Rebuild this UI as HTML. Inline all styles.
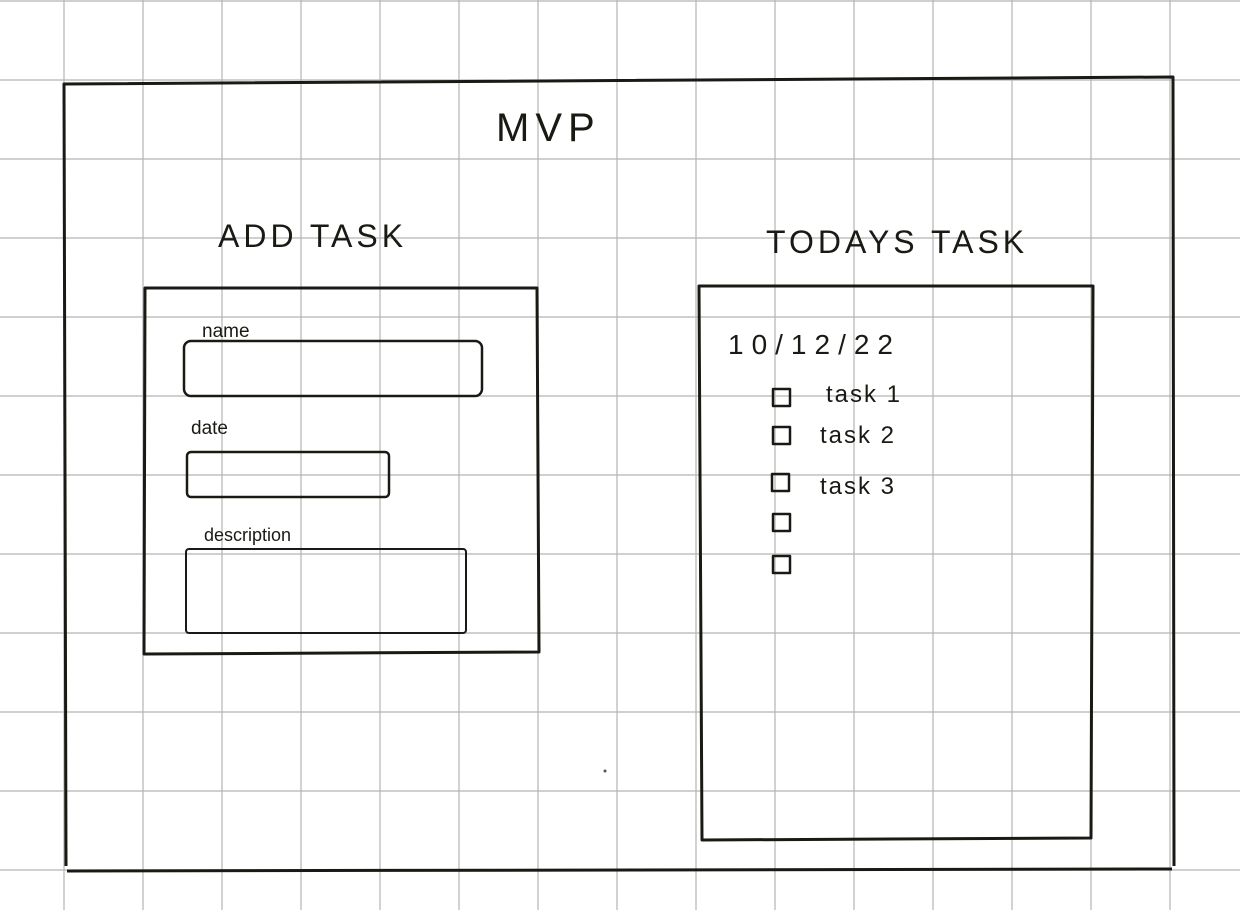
<!DOCTYPE html>
<html><head><meta charset="utf-8"><style>
html,body{margin:0;padding:0;background:#fff;}
svg{display:block}
text{font-family:"Liberation Sans",sans-serif;fill:#1a1a14}
</style></head><body>
<svg width="1240" height="910" viewBox="0 0 1240 910" xmlns="http://www.w3.org/2000/svg">
<rect width="1240" height="910" fill="#fff"/>
<g stroke="#b4b4b4" stroke-width="1.2">
<line x1="64" y1="0" x2="64" y2="910"/><line x1="143" y1="0" x2="143" y2="910"/><line x1="222" y1="0" x2="222" y2="910"/><line x1="301" y1="0" x2="301" y2="910"/><line x1="380" y1="0" x2="380" y2="910"/><line x1="459" y1="0" x2="459" y2="910"/><line x1="538" y1="0" x2="538" y2="910"/><line x1="617" y1="0" x2="617" y2="910"/><line x1="696" y1="0" x2="696" y2="910"/><line x1="775" y1="0" x2="775" y2="910"/><line x1="854" y1="0" x2="854" y2="910"/><line x1="933" y1="0" x2="933" y2="910"/><line x1="1012" y1="0" x2="1012" y2="910"/><line x1="1091" y1="0" x2="1091" y2="910"/><line x1="1170" y1="0" x2="1170" y2="910"/>
<line x1="0" y1="1" x2="1240" y2="1"/><line x1="0" y1="80" x2="1240" y2="80"/><line x1="0" y1="159" x2="1240" y2="159"/><line x1="0" y1="238" x2="1240" y2="238"/><line x1="0" y1="317" x2="1240" y2="317"/><line x1="0" y1="396" x2="1240" y2="396"/><line x1="0" y1="475" x2="1240" y2="475"/><line x1="0" y1="554" x2="1240" y2="554"/><line x1="0" y1="633" x2="1240" y2="633"/><line x1="0" y1="712" x2="1240" y2="712"/><line x1="0" y1="791" x2="1240" y2="791"/><line x1="0" y1="870" x2="1240" y2="870"/>
</g>
<g fill="none" stroke="#1a1a14" stroke-width="3" stroke-linejoin="round">
<polyline points="66,866 64,84 1173,77 1174,866"/>
<line x1="67" y1="871" x2="1172" y2="869"/>
<polygon points="145,288 537,288 539,652 144,654"/>
<rect x="184" y="341" width="298" height="55" rx="7" stroke-width="2.5"/>
<rect x="187" y="452" width="202" height="45" rx="4" stroke-width="2.5"/>
<rect x="186" y="549" width="280" height="84" rx="3" stroke-width="2"/>
<polygon points="699,286 1093,286 1091,838 702,840"/>
<g stroke-width="2.5">
<rect x="773" y="389" width="17" height="17"/>
<rect x="773" y="427" width="17" height="17"/>
<rect x="772" y="474" width="17" height="17"/>
<rect x="773" y="514" width="17" height="17"/>
<rect x="773" y="556" width="17" height="17"/>
</g>
</g>
<text x="496" y="141" font-size="40" letter-spacing="6">MVP</text>
<text x="218" y="247" font-size="32" letter-spacing="4">ADD TASK</text>
<text x="766" y="253" font-size="32" letter-spacing="4">TODAYS  TASK</text>
<text x="202" y="337" font-size="19">name</text>
<text x="191" y="434" font-size="19">date</text>
<text x="204" y="541" font-size="18">description</text>
<text x="728" y="354" font-size="28" letter-spacing="8">10/12/22</text>
<text x="826" y="402" font-size="24" letter-spacing="2">task 1</text>
<text x="820" y="443" font-size="24" letter-spacing="2">task 2</text>
<text x="820" y="494" font-size="24" letter-spacing="2">task 3</text>
<circle cx="605" cy="771" r="1.5" fill="#555"/>
</svg>
</body></html>
